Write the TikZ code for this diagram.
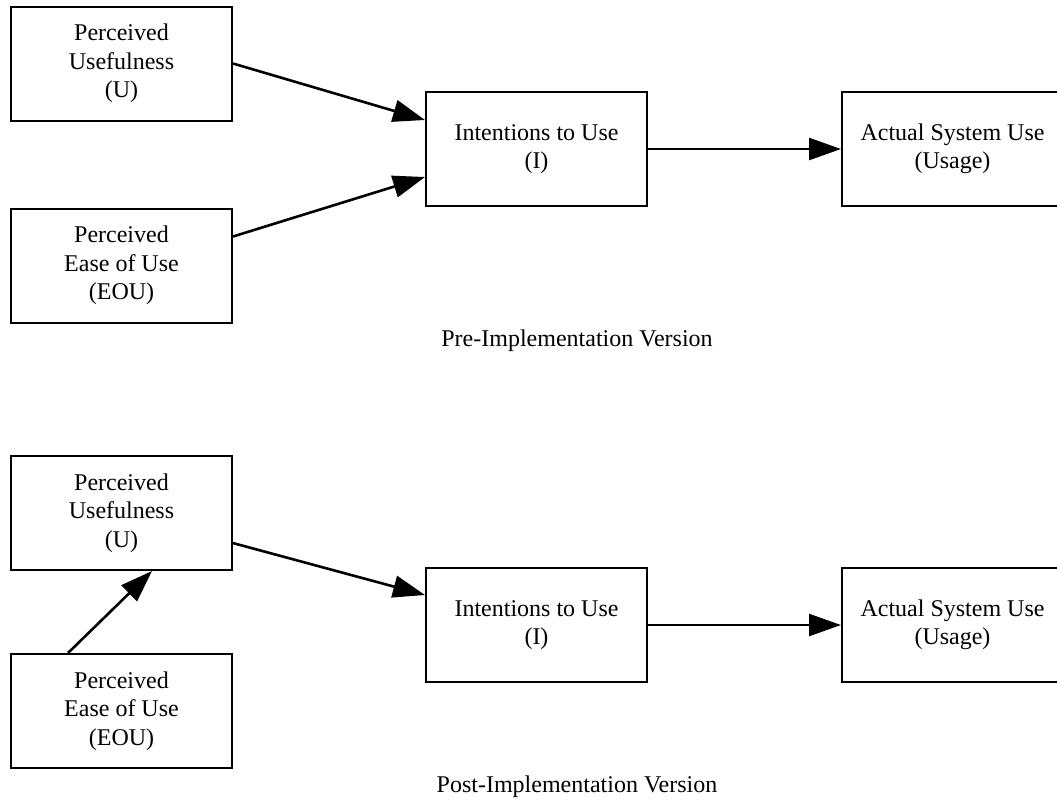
\documentclass[tikz,border=0pt]{standalone}
\usepackage{fontspec}
\setmainfont{Liberation Serif}
\usepackage{tikz}
\usetikzlibrary{positioning, arrows.meta}
\tikzset{tam node/.style={rectangle,draw,line width=1pt,minimum width=110.5pt,minimum height=57pt,align=center,inner sep=2pt,font=\fontsize{12}{14.25}\selectfont}}
\tikzset{tam arrow/.style={line width=1.3pt,-{Triangle[length=16pt,width=11pt]}}}
\tikzset{caption/.style={font=\fontsize{12}{14.25}\selectfont}}

\begin{document}
\begin{tikzpicture}[x=0.5pt,y=-0.5pt]
            \clip[use as bounding box] (0,0) rectangle (1057,800);

            % pre-implementation version
            \node[tam node] (pu1) at (121.5,63.5) {Perceived\\Usefulness\\(U)};
            \node[tam node] (peou1) [below = 43pt of pu1] {Perceived\\Ease of Use\\(EOU)};
            \node[tam node] (int1) at (536.5,149) {Intentions to Use\\(I)};
            \node[tam node] (use1) [right = 96.5pt of int1] {Actual System Use\\(Usage)};
            \node[caption] (pre) at (577,341) {Pre-Implementation Version};

            \path[tam arrow]
            (pu1.east) edge ([yshift=14.5pt]int1.west)
            ([yshift=14.5pt]peou1.east) edge ([yshift=-14pt]int1.west)
            (int1) edge (use1);

            % post-implementation version
            \node[tam node] (pu2) at (121.5,513) {Perceived\\Usefulness\\(U)};
            \node[tam node] (peou2) [below = 41pt of pu2] {Perceived\\Ease of Use\\(EOU)};
            \node[tam node] (int2) at (536.5,625) {Intentions to Use\\(I)};
            \node[tam node] (use2) [right = 96.5pt of int2] {Actual System Use\\(Usage)};
            \node[caption] (post) at (577,787) {Post-Implementation Version};

            \path[tam arrow]
            ([xshift=-26.75pt]peou2.north) edge ([xshift=15.25pt]pu2.south)
            (pu2) edge (int2)
            (int2) edge (use2);
        \end{tikzpicture}
\end{document}
